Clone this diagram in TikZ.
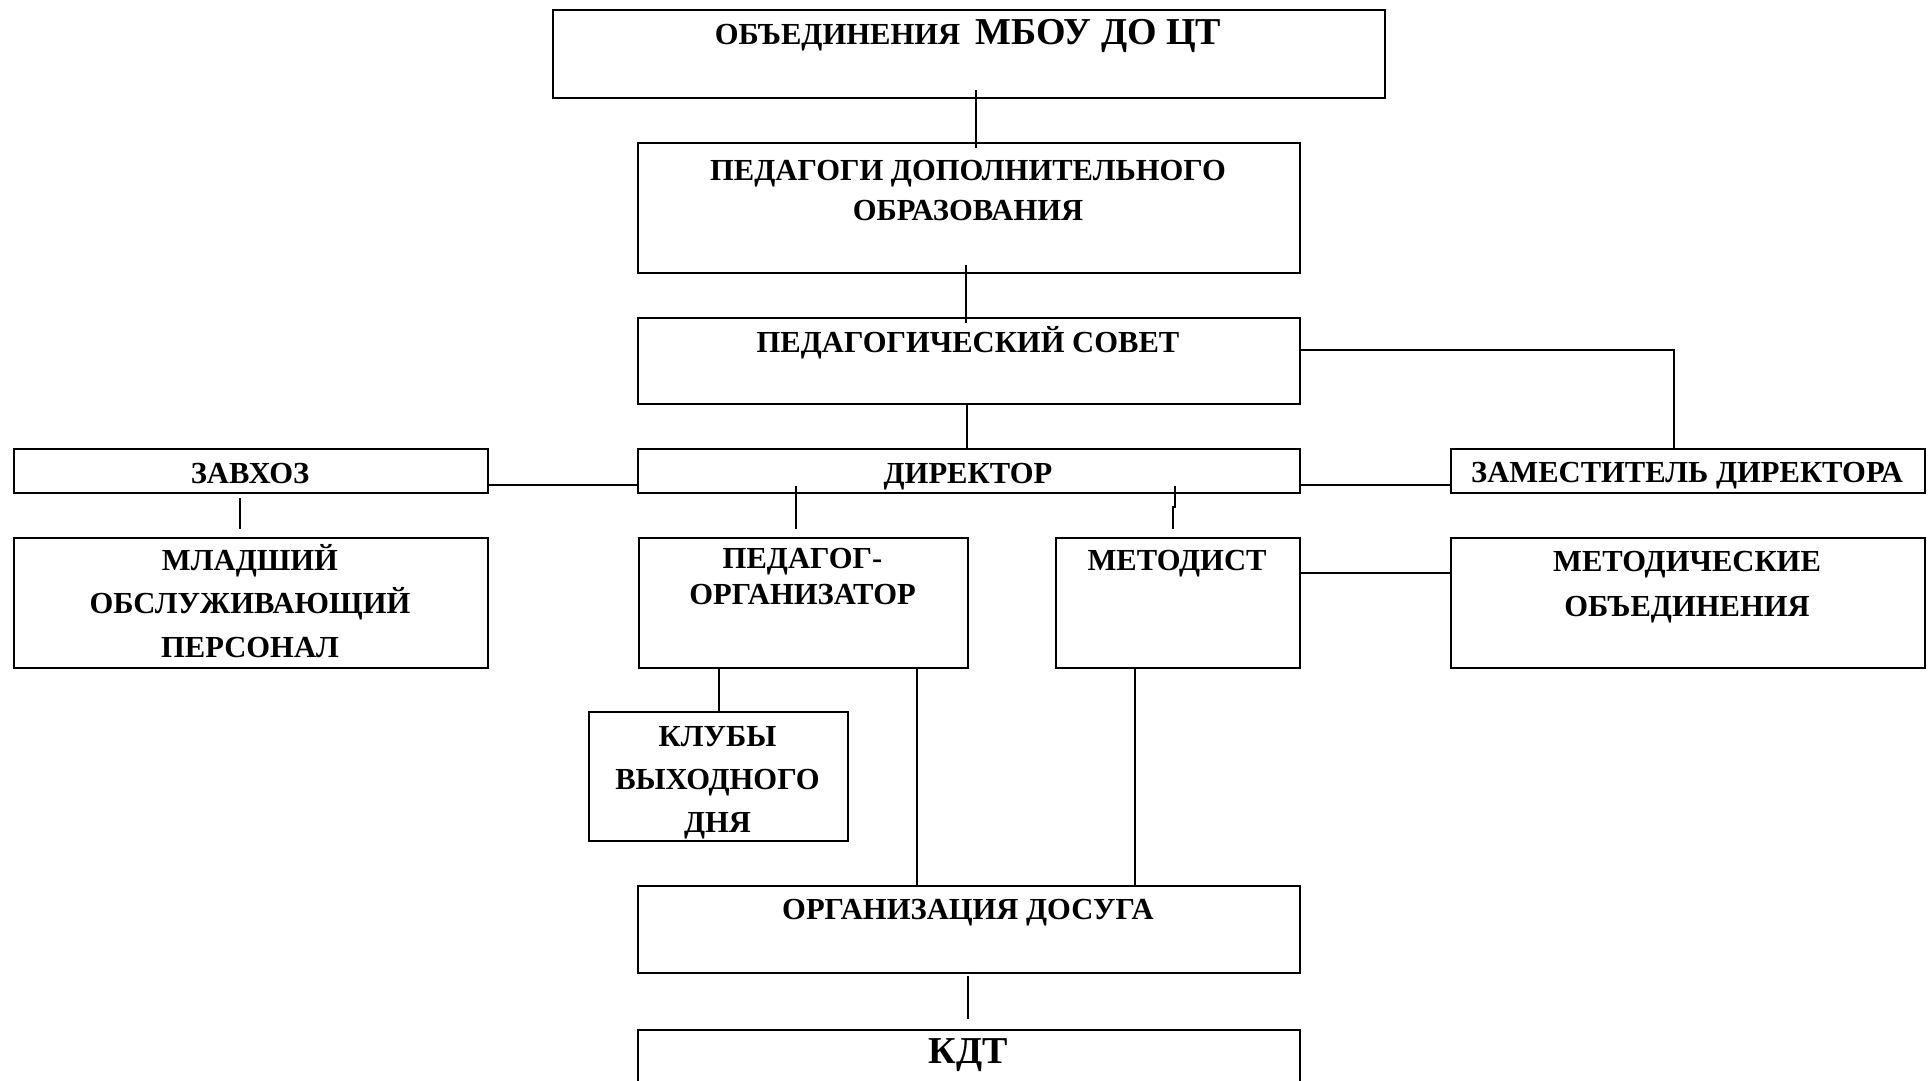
\documentclass[tikz,border=0pt]{standalone}
\usepackage{fontspec}
\setmainfont{Liberation Serif}
\usetikzlibrary{calc}
\newcommand{\mlines}[1]{\begin{tabular}[t]{@{}c@{}}#1\end{tabular}}
\begin{document}
\begin{tikzpicture}[x=0.5pt,y=-0.5pt,
  box/.style={draw, line width=0.9pt, anchor=north west, inner sep=0pt},
  conn/.style={line width=0.9pt},
  txt/.style={anchor=base, inner sep=0pt, font=\bfseries\fontsize{15.3}{21.5}\selectfont},
  big/.style={font=\bfseries\fontsize{19}{22}\selectfont}
]
\path[use as bounding box, fill=white] (0,0) rectangle (1932,1081);

% boxes
\node[box, minimum width=416pt, minimum height=44pt] (top) at (552,9) {};
\node[box, minimum width=331pt, minimum height=65pt] (ped) at (637,142) {};
\node[box, minimum width=331pt, minimum height=43pt] (sov) at (637,317) {};
\node[box, minimum width=331pt, minimum height=22pt] (dir) at (637,448) {};
\node[box, minimum width=237pt, minimum height=22pt] (zav) at (13,448) {};
\node[box, minimum width=237pt, minimum height=22pt] (zam) at (1450,448) {};
\node[box, minimum width=237pt, minimum height=65pt] (mlad) at (13,537) {};
\node[box, minimum width=164.5pt, minimum height=65pt] (porg) at (638,537) {};
\node[box, minimum width=122pt, minimum height=65pt] (met) at (1055,537) {};
\node[box, minimum width=237pt, minimum height=65pt] (metob) at (1450,537) {};
\node[box, minimum width=129.5pt, minimum height=64.5pt] (klub) at (588,711) {};
\node[box, minimum width=331pt, minimum height=43.5pt] (dos) at (637,885) {};
\node[box, minimum width=331pt, minimum height=40pt] (kdt) at (637,1029) {};

% texts
\node[txt] (ttop) at (968,45) {ОБЪЕДИНЕНИЯ\ \ {\fontsize{19}{22}\selectfont МБОУ ДО ЦТ}};
\node[txt, font=\bfseries\fontsize{15.3}{20}\selectfont] (tped) at (968,180) {\mlines{ПЕДАГОГИ ДОПОЛНИТЕЛЬНОГО\\ОБРАЗОВАНИЯ}};
\node[txt] (tsov) at (968,352) {ПЕДАГОГИЧЕСКИЙ СОВЕТ};
\node[txt] (tdir) at (968,483) {ДИРЕКТОР};
\node[txt] (tzav) at (250,483) {ЗАВХОЗ};
\node[txt] (tzam) at (1687,482) {ЗАМЕСТИТЕЛЬ ДИРЕКТОРА};
\node[txt, font=\bfseries\fontsize{15.3}{21.75}\selectfont] (tmlad) at (250,570) {\mlines{МЛАДШИЙ\\ОБСЛУЖИВАЮЩИЙ\\ПЕРСОНАЛ}};
\node[txt, font=\bfseries\fontsize{15.3}{18}\selectfont] (tporg) at (802.5,568) {\mlines{ПЕДАГОГ-\\ОРГАНИЗАТОР}};
\node[txt] (tmet) at (1177,570) {МЕТОДИСТ};
\node[txt, font=\bfseries\fontsize{15.3}{22.5}\selectfont] (tmetob) at (1687,571) {\mlines{МЕТОДИЧЕСКИЕ\\ОБЪЕДИНЕНИЯ}};
\node[txt] (tklub) at (717.5,746) {\mlines{КЛУБЫ\\ВЫХОДНОГО\\ДНЯ}};
\node[txt] (tdos) at (968,919) {ОРГАНИЗАЦИЯ ДОСУГА};
\node[txt, big] (tkdt) at (968,1063) {КДТ};

% connectors
\draw[conn] ($(top.south)+(7,-9)$) -- ($(ped.north)+(7,6)$);
\draw[conn] ($(ped.south)+(-3,-9)$) -- ($(sov.north)+(-3,6)$);
\draw[conn] ($(sov.east)+(0,-11)$) -| ($(zam.north)+(-14,0)$);
\draw[conn] ($(sov.south)+(-2,0)$) -- ($(dir.north)+(-2,0)$);
\draw[conn] ($(zav.east)+(0,14)$) -- ($(dir.west)+(0,14)$);
\draw[conn] ($(dir.east)+(0,14)$) -- ($(zam.west)+(0,14)$);
\draw[conn] ($(zav.south)+(-11,4)$) -- ($(mlad.north)+(-11,-8)$);
\draw[conn] ($(porg.north |- dir.south)+(-7.5,-8)$) -- ($(porg.north)+(-7.5,-8)$);
\draw[conn] ($(met.north |- dir.south)+(-3,-8)$) -- ($(met.north)+(-3,-30)$) -- ($(met.north)+(-5,-30)$) -- ($(met.north)+(-5,-8)$);
\draw[conn] ($(met.east)+(0,-30)$) -- ($(metob.west)+(0,-30)$);
\draw[conn] ($(porg.south)+(-84.5,-2)$) -- ($(klub.north)+(0.5,0)$);
\draw[conn] ($(porg.south)+(113.5,-2)$) -- ($(dos.north)+(-52,0)$);
\draw[conn] ($(met.south)+(-43,-2)$) -- ($(dos.north)+(166,0)$);
\draw[conn] ($(dos.south)+(-1,2)$) -- ($(kdt.north)+(-1,-10)$);
\end{tikzpicture}
\end{document}
